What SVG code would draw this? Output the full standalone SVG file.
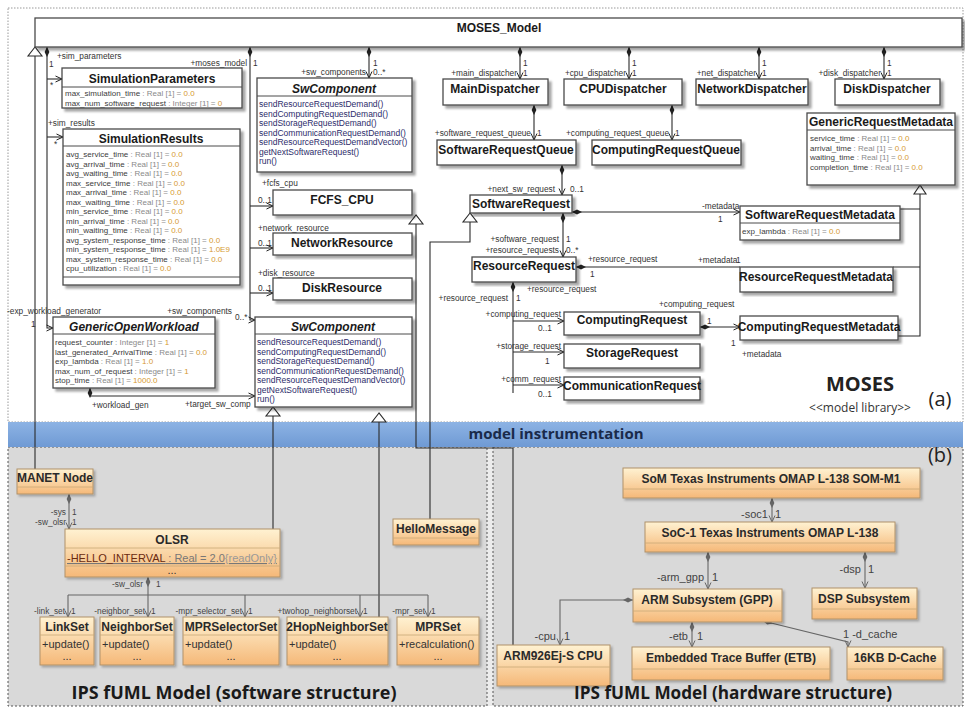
<svg xmlns="http://www.w3.org/2000/svg" width="965" height="711" viewBox="0 0 965 711">
<style>
text{font-family:"Liberation Sans",Arial,sans-serif}
.h{font-size:12px;font-weight:bold;fill:#1a1a1a;text-anchor:middle}
.hi{font-style:italic}
.a{font-size:8px;fill:#3c3c3c}
.t{fill:#8a8a8a}
.v{fill:#d69a30}
.o{font-size:8.5px;fill:#2c2c6a}
.l{font-size:8.3px;fill:#333}
.r{text-anchor:end}
.bx{fill:#fff;stroke:#4a4a4a;stroke-width:1.3;filter:url(#ds)}
.dv{stroke:#4a4a4a;stroke-width:1}
.c{fill:none;stroke:#2a2a2a;stroke-width:1.1}
.g{fill:#fff;stroke:#2a2a2a;stroke-width:1.1}
.fb{fill:url(#og);stroke:#b0926a;stroke-width:1;filter:url(#ds2)}
.fd{stroke:#c9a877;stroke-width:.8}
.fh{font-size:12px;font-weight:bold;fill:#2a2a2a;text-anchor:middle}
.fo{font-size:11px;fill:#333}
.fl{font-size:8.3px;fill:#444}
.hl{font-size:11px;fill:#444}
.c2{fill:none;stroke:#666;stroke-width:1.1}
.big{font-family:"Open Sans","Noto Sans",sans-serif;font-weight:bold}
</style>
<defs>
<filter id="ds" x="-10%" y="-10%" width="130%" height="130%"><feDropShadow dx="3" dy="3" stdDeviation="1" flood-color="#000" flood-opacity="0.35"/></filter>
<filter id="ds2" x="-10%" y="-10%" width="130%" height="130%"><feDropShadow dx="2" dy="2" stdDeviation="1" flood-color="#000" flood-opacity="0.25"/></filter>
<linearGradient id="og" x1="0" y1="0" x2="0" y2="1"><stop offset="0" stop-color="#fff2d2"/><stop offset="1" stop-color="#f5b878"/></linearGradient>
<linearGradient id="bl" x1="0" y1="0" x2="0" y2="1"><stop offset="0" stop-color="#8db3e4"/><stop offset="1" stop-color="#6f9ad4"/></linearGradient>
<marker id="dm" viewBox="0 0 10 6" refX="0" refY="3" markerWidth="10" markerHeight="6" markerUnits="userSpaceOnUse" orient="auto"><path d="M0,3 L5,0.6 L10,3 L5,5.4Z" fill="#222"/></marker>
<marker id="ar" viewBox="0 0 8 8" refX="7.5" refY="4" markerWidth="8" markerHeight="8" markerUnits="userSpaceOnUse" orient="auto"><path d="M1,1 L7.5,4 L1,7" fill="none" stroke="#222" stroke-width="1"/></marker>
<marker id="dm2" viewBox="0 0 10 6" refX="0" refY="3" markerWidth="10" markerHeight="6" markerUnits="userSpaceOnUse" orient="auto"><path d="M0,3 L5,0.6 L10,3 L5,5.4Z" fill="#666"/></marker>
<marker id="ar2" viewBox="0 0 8 8" refX="7.5" refY="4" markerWidth="8" markerHeight="8" markerUnits="userSpaceOnUse" orient="auto"><path d="M1,1 L7.5,4 L1,7" fill="none" stroke="#666" stroke-width="1"/></marker>
</defs>

<rect width="965" height="711" fill="#fff"/>
<rect x="8" y="447" width="955" height="259" fill="#d9d9d9"/>
<rect x="487" y="447" width="6" height="259" fill="#ececec"/>
<rect x="8" y="8" width="955" height="414" fill="none" stroke="#999" stroke-dasharray="1.5,1.5"/>
<rect x="8" y="447" width="479" height="259" fill="none" stroke="#555" stroke-dasharray="2,2"/>
<rect x="493" y="447" width="470" height="259" fill="none" stroke="#555" stroke-dasharray="2,2"/>
<rect x="8" y="422" width="955" height="25" fill="url(#bl)"/>
<text class="big" x="556" y="439" font-size="15" fill="#1a2a4a" text-anchor="middle">model instrumentation</text>
<text class="big" x="860" y="391" font-size="20" fill="#222" text-anchor="middle">MOSES</text>
<text x="860" y="412" font-size="12" fill="#333" text-anchor="middle" style="font-family:'Open Sans','Noto Sans',sans-serif">&lt;&lt;model library&gt;&gt;</text>
<text x="940" y="406" font-size="20" fill="#222" text-anchor="middle" style="font-family:'Open Sans','Noto Sans',sans-serif">(a)</text>
<text x="940" y="462" font-size="20" fill="#222" text-anchor="middle" style="font-family:'Open Sans','Noto Sans',sans-serif">(b)</text>

<g id="connectors">
<path class="c" d="M35,56 V469"/>
<polygon class="g" points="35,47 28,56 42,56"/>
<path class="c" d="M47,47 V328 H53" marker-start="url(#dm)" marker-end="url(#ar)"/>
<path class="c" d="M47,79 H62" marker-end="url(#ar)"/>
<path class="c" d="M47,137 H63" marker-end="url(#ar)"/>
<path class="c" d="M250,47 V320 H255" marker-start="url(#dm)" marker-end="url(#ar)"/>
<path class="c" d="M250,206 H273" marker-end="url(#ar)"/>
<path class="c" d="M250,248 H273" marker-end="url(#ar)"/>
<path class="c" d="M250,293 H273" marker-end="url(#ar)"/>
<path class="c" d="M369,47 V78" marker-start="url(#dm)" marker-end="url(#ar)"/>
<path class="c" d="M520,47 V79" marker-start="url(#dm)" marker-end="url(#ar)"/>
<path class="c" d="M629,47 V79" marker-start="url(#dm)" marker-end="url(#ar)"/>
<path class="c" d="M759,47 V79" marker-start="url(#dm)" marker-end="url(#ar)"/>
<path class="c" d="M884,47 V79" marker-start="url(#dm)" marker-end="url(#ar)"/>
<path class="c" d="M534,105 V140" marker-start="url(#dm)" marker-end="url(#ar)"/>
<path class="c" d="M672,105 V140" marker-start="url(#dm)" marker-end="url(#ar)"/>
<path class="c" d="M562,165 V195" marker-start="url(#dm)" marker-end="url(#ar)"/>
<path class="c" d="M572,212 H740" marker-start="url(#dm)" marker-end="url(#ar)"/>
<path class="c" d="M563,213 V257" marker-start="url(#dm)" marker-end="url(#ar)"/>
<path class="c" d="M576,267 H740" marker-start="url(#dm)"/>
<path class="c" d="M513,282 V393" marker-start="url(#dm)"/>
<path class="c" d="M513,321 H564" marker-end="url(#ar)"/>
<path class="c" d="M513,352 H564" marker-end="url(#ar)"/>
<path class="c" d="M513,385 H564" marker-end="url(#ar)"/>
<path class="c" d="M700,327 H740" marker-start="url(#dm)" marker-end="url(#ar)"/>
<path class="c" d="M90,388 V396 H255" marker-start="url(#dm)" marker-end="url(#ar)"/>
<path class="c" d="M920,194 V336 H898 M900,209 H920 M893,267 H920"/>
<polygon class="g" points="920,185 914,194 926,194"/>
<path class="c" d="M470,222 V242 H430 V519"/>
<polygon class="g" points="470,213 463,222 477,222"/>
<path class="c" d="M416,224 V448 H513 V645"/>
<polygon class="g" points="416,215 409,224 423,224"/>
<path class="c" d="M273,416 V529"/>
<polygon class="g" points="273,407 266,416 280,416"/>
<path class="c" d="M379,422 V617"/>
<polygon class="g" points="379,413 372,422 386,422"/>

<path class="c2" d="M69,494 V529" marker-start="url(#dm2)" marker-end="url(#ar2)"/>
<path class="c2" d="M148,577 V617" marker-start="url(#dm2)" marker-end="url(#ar2)"/>
<path class="c2" d="M68,595 H428"/>
<path class="c2" d="M68,595 V617" marker-end="url(#ar2)"/>
<path class="c2" d="M245,595 V617" marker-end="url(#ar2)"/>
<path class="c2" d="M360,595 V617" marker-end="url(#ar2)"/>
<path class="c2" d="M428,595 V617" marker-end="url(#ar2)"/>
<path class="c2" d="M772,498 V522" marker-start="url(#dm2)" marker-end="url(#ar2)"/>
<path class="c2" d="M708,552 V589" marker-start="url(#dm2)" marker-end="url(#ar2)"/>
<path class="c2" d="M865,552 V588" marker-start="url(#dm2)" marker-end="url(#ar2)"/>
<path class="c2" d="M633,600 H560 V645" marker-start="url(#dm2)" marker-end="url(#ar2)"/>
<path class="c2" d="M692,622 V647" marker-start="url(#dm2)" marker-end="url(#ar2)"/>
<path class="c2" d="M763,621 L848,642 V647" marker-start="url(#dm2)" marker-end="url(#ar2)"/>

<text class="l" x="57" y="59">+sim_parameters</text>
<text class="l" x="49" y="67">1</text>
<text class="l" x="50" y="88">*</text>
<text class="l" x="48" y="126">+sim_results</text>
<text class="l" x="54" y="147">*</text>
<text class="l" x="7" y="314">-exp_workload_generator</text>
<text class="l" x="31" y="327">1</text>
<text class="l" x="92" y="408">+workload_gen</text>
<text class="l" x="185" y="407">+target_sw_comp</text>
<text class="l r" x="247" y="66">+moses_model</text>
<text class="l" x="253" y="66">1</text>
<text class="l" x="262" y="186">+fcfs_cpu</text>
<text class="l" x="258" y="203">0..1</text>
<text class="l" x="258" y="231">+network_resource</text>
<text class="l" x="258" y="246">0..1</text>
<text class="l" x="258" y="276">+disk_resource</text>
<text class="l" x="258" y="291">0..1</text>
<text class="l r" x="232" y="314">+sw_components</text>
<text class="l" x="235" y="320">0..*</text>
<text class="l" x="373" y="66">1</text>
<text class="l r" x="366" y="75">+sw_components</text>
<text class="l" x="373" y="75">0..*</text>
<text class="l r" x="517" y="76">+main_dispatcher</text>
<text class="l" x="523" y="66">1</text>
<text class="l" x="523" y="76">1</text>
<text class="l r" x="626" y="76">+cpu_dispatcher</text>
<text class="l" x="632" y="66">1</text>
<text class="l" x="632" y="76">1</text>
<text class="l r" x="756" y="76">+net_dispatcher</text>
<text class="l" x="762" y="66">1</text>
<text class="l" x="762" y="76">1</text>
<text class="l r" x="881" y="76">+disk_dispatcher</text>
<text class="l" x="887" y="66">1</text>
<text class="l" x="887" y="76">1</text>
<text class="l r" x="531" y="136">+software_request_queue</text>
<text class="l" x="537" y="136">1</text>
<text class="l r" x="669" y="136">+computing_request_queue</text>
<text class="l" x="675" y="136">1</text>
<text class="l r" x="555" y="192">+next_sw_request</text>
<text class="l" x="570" y="192">0..1</text>
<text class="l" x="702" y="209">-metadata</text>
<text class="l" x="718" y="222">1</text>
<text class="l r" x="559" y="242">+software_request</text>
<text class="l" x="566" y="242">1</text>
<text class="l r" x="559" y="253">+resource_requests</text>
<text class="l" x="566" y="253">0..*</text>
<text class="l" x="588" y="262">+resource_request</text>
<text class="l" x="590" y="277">1</text>
<text class="l" x="698" y="263">+metadata</text>
<text class="l" x="736" y="263">1</text>
<text class="l" x="527" y="292">+resource_request</text>
<text class="l r" x="508" y="301">+resource_request</text>
<text class="l" x="516" y="301">1</text>
<text class="l r" x="561" y="317">+computing_request</text>
<text class="l" x="538" y="331">0..1</text>
<text class="l r" x="561" y="349">+storage_request</text>
<text class="l" x="545" y="364">1</text>
<text class="l r" x="561" y="382">+comm_request</text>
<text class="l" x="538" y="397">0..1</text>
<text class="l" x="659" y="307">+computing_request</text>
<text class="l" x="707" y="324">1</text>
<text class="l" x="731" y="346">1</text>
<text class="l" x="742" y="357">+metadata</text>

<text class="fl r" x="66" y="515">-sys</text>
<text class="fl" x="72" y="515">1</text>
<text class="fl r" x="66" y="525">-sw_olsr</text>
<text class="fl" x="72" y="525">1</text>
<text class="fl r" x="143" y="587">-sw_olsr</text>
<text class="fl" x="156" y="587">1</text>
<text class="fl r" x="65" y="614">-link_set</text>
<text class="fl" x="71" y="614">1</text>
<text class="fl r" x="145" y="614">-neighbor_set</text>
<text class="fl" x="151" y="614">1</text>
<text class="fl r" x="242" y="614">-mpr_selector_set</text>
<text class="fl" x="248" y="614">1</text>
<text class="fl r" x="357" y="614">+twohop_neighborset</text>
<text class="fl" x="363" y="614">1</text>
<text class="fl r" x="425" y="614">-mpr_set</text>
<text class="fl" x="431" y="614">1</text>
<text class="hl r" x="768" y="518">-soc1</text>
<text class="hl" x="775" y="518">1</text>
<text class="hl r" x="704" y="581">-arm_gpp</text>
<text class="hl" x="712" y="581">1</text>
<text class="hl r" x="861" y="573">-dsp</text>
<text class="hl" x="868" y="573">1</text>
<text class="hl r" x="556" y="640">-cpu</text>
<text class="hl" x="564" y="640">1</text>
<text class="hl r" x="688" y="640">-etb</text>
<text class="hl" x="697" y="640">1</text>
<text class="hl" x="843" y="638">1 -d_cache</text>
</g>

<g id="MOSES_Model"><rect class="bx" x="35" y="18" width="927" height="29"/><text class="h" x="499" y="32">MOSES_Model</text></g>

<g id="SimulationParameters"><rect class="bx" x="62" y="68" width="180" height="40"/><text class="h" x="152" y="83">SimulationParameters</text><line class="dv" x1="62" y1="87" x2="242" y2="87"/>
<text class="a" x="65" y="96">max_simulation_time<tspan class="t"> : Real [1] = </tspan><tspan class="v">0.0</tspan></text>
<text class="a" x="65" y="105.5">max_num_software_request<tspan class="t"> : Integer [1] = </tspan><tspan class="v">0</tspan></text></g>

<g id="SimulationResults"><rect class="bx" x="63" y="129" width="177" height="156"/><text class="h" x="151" y="143">SimulationResults</text><line class="dv" x1="63" y1="146" x2="240" y2="146"/>
<text class="a" x="66" y="157">avg_service_time<tspan class="t"> : Real [1] = </tspan><tspan class="v">0.0</tspan></text>
<text class="a" x="66" y="166.5">avg_arrival_time<tspan class="t"> : Real [1] = </tspan><tspan class="v">0.0</tspan></text>
<text class="a" x="66" y="176">avg_waiting_time<tspan class="t"> : Real [1] = </tspan><tspan class="v">0.0</tspan></text>
<text class="a" x="66" y="185.5">max_service_time<tspan class="t"> : Real [1] = </tspan><tspan class="v">0.0</tspan></text>
<text class="a" x="66" y="195">max_arrival_time<tspan class="t"> : Real [1] = </tspan><tspan class="v">0.0</tspan></text>
<text class="a" x="66" y="204.5">max_waiting_time<tspan class="t"> : Real [1] = </tspan><tspan class="v">0.0</tspan></text>
<text class="a" x="66" y="214">min_service_time<tspan class="t"> : Real [1] = </tspan><tspan class="v">0.0</tspan></text>
<text class="a" x="66" y="223.5">min_arrival_time<tspan class="t"> : Real [1] = </tspan><tspan class="v">0.0</tspan></text>
<text class="a" x="66" y="233">min_waiting_time<tspan class="t"> : Real [1] = </tspan><tspan class="v">0.0</tspan></text>
<text class="a" x="66" y="242.5">avg_system_response_time<tspan class="t"> : Real [1] = </tspan><tspan class="v">0.0</tspan></text>
<text class="a" x="66" y="252">min_system_response_time<tspan class="t"> : Real [1] = </tspan><tspan class="v">1.0E9</tspan></text>
<text class="a" x="66" y="261.5">max_system_response_time<tspan class="t"> : Real [1] = </tspan><tspan class="v">0.0</tspan></text>
<text class="a" x="66" y="271">cpu_utilization<tspan class="t"> : Real [1] = </tspan><tspan class="v">0.0</tspan></text>
<line class="dv" x1="63" y1="277" x2="240" y2="277"/></g>

<g id="GenericOpenWorkload"><rect class="bx" x="53" y="317" width="162" height="71"/><text class="h hi" x="134" y="331">GenericOpenWorkload</text><line class="dv" x1="53" y1="334" x2="215" y2="334"/>
<text class="a" x="55" y="345">request_counter<tspan class="t"> : Integer [1] = </tspan><tspan class="v">1</tspan></text>
<text class="a" x="55" y="354.5">last_generated_ArrivalTime<tspan class="t"> : Real [1] = </tspan><tspan class="v">0.0</tspan></text>
<text class="a" x="55" y="364">exp_lambda<tspan class="t"> : Real [1] = </tspan><tspan class="v">1.0</tspan></text>
<text class="a" x="55" y="373.5">max_num_of_request<tspan class="t"> : Integer [1] = </tspan><tspan class="v">1</tspan></text>
<text class="a" x="55" y="383">stop_time<tspan class="t"> : Real [1] = </tspan><tspan class="v">1000.0</tspan></text></g>

<g id="SwComponent"><rect class="bx" x="257" y="78" width="155" height="94"/><text class="h hi" x="334" y="93">SwComponent</text><line class="dv" x1="257" y1="96" x2="412" y2="96"/>
<text class="o" x="259" y="107">sendResourceRequestDemand()</text>
<text class="o" x="259" y="116.5">sendComputingRequestDemand()</text>
<text class="o" x="259" y="126">sendStorageRequestDemand()</text>
<text class="o" x="259" y="135.5">sendCommunicationRequestDemand()</text>
<text class="o" x="259" y="145">sendResourceRequestDemandVector()</text>
<text class="o" x="259" y="154.5">getNextSoftwareRequest()</text>
<text class="o" x="259" y="164">run()</text></g>

<g id="FCFS_CPU"><rect class="bx" x="273" y="190" width="139" height="25"/><text class="h" x="342" y="204">FCFS_CPU</text></g>
<g id="NetworkResource"><rect class="bx" x="273" y="233" width="139" height="22"/><text class="h" x="342" y="247">NetworkResource</text></g>
<g id="DiskResource"><rect class="bx" x="273" y="278" width="139" height="22"/><text class="h" x="342" y="292">DiskResource</text></g>

<g id="SwComponent2"><rect class="bx" x="255" y="317" width="157" height="90"/><text class="h hi" x="333" y="331">SwComponent</text><line class="dv" x1="255" y1="334" x2="412" y2="334"/>
<text class="o" x="257" y="345">sendResourceRequestDemand()</text>
<text class="o" x="257" y="354.5">sendComputingRequestDemand()</text>
<text class="o" x="257" y="364">sendStorageRequestDemand()</text>
<text class="o" x="257" y="373.5">sendCommunicationRequestDemand()</text>
<text class="o" x="257" y="383">sendResourceRequestDemandVector()</text>
<text class="o" x="257" y="392.5">getNextSoftwareRequest()</text>
<text class="o" x="257" y="402">run()</text></g>

<g id="MainDispatcher"><rect class="bx" x="443" y="79" width="105" height="26"/><text class="h" x="495" y="93">MainDispatcher</text></g>
<g id="CPUDispatcher"><rect class="bx" x="564" y="79" width="118" height="26"/><text class="h" x="623" y="93">CPUDispatcher</text></g>
<g id="NetworkDispatcher"><rect class="bx" x="696" y="79" width="112" height="26"/><text class="h" x="752" y="93">NetworkDispatcher</text></g>
<g id="DiskDispatcher"><rect class="bx" x="835" y="79" width="105" height="26"/><text class="h" x="887" y="93">DiskDispatcher</text></g>
<g id="SoftwareRequestQueue"><rect class="bx" x="437" y="140" width="139" height="25"/><text class="h" x="506" y="154">SoftwareRequestQueue</text></g>
<g id="ComputingRequestQueue"><rect class="bx" x="592" y="140" width="149" height="25"/><text class="h" x="666" y="154">ComputingRequestQueue</text></g>

<g id="GenericRequestMetadata"><rect class="bx" x="807" y="113" width="148" height="72"/><text class="h" x="881" y="126">GenericRequestMetadata</text><line class="dv" x1="807" y1="130" x2="955" y2="130"/>
<text class="a" x="810" y="141">service_time<tspan class="t"> : Real [1] = </tspan><tspan class="v">0.0</tspan></text>
<text class="a" x="810" y="150.5">arrival_time<tspan class="t"> : Real [1] = </tspan><tspan class="v">0.0</tspan></text>
<text class="a" x="810" y="160">waiting_time<tspan class="t"> : Real [1] = </tspan><tspan class="v">0.0</tspan></text>
<text class="a" x="810" y="169.5">completion_time<tspan class="t"> : Real [1] = </tspan><tspan class="v">0.0</tspan></text></g>

<g id="SoftwareRequest"><rect class="bx" x="470" y="195" width="102" height="18"/><text class="h" x="521" y="208">SoftwareRequest</text></g>
<g id="SoftwareRequestMetadata"><rect class="bx" x="740" y="206" width="160" height="34"/><text class="h" x="820" y="219">SoftwareRequestMetadata</text><line class="dv" x1="740" y1="223" x2="900" y2="223"/>
<text class="a" x="742" y="234">exp_lambda<tspan class="t"> : Real [1] = </tspan><tspan class="v">0.0</tspan></text></g>
<g id="ResourceRequest"><rect class="bx" x="472" y="257" width="104" height="25"/><text class="h" x="524" y="270">ResourceRequest</text></g>
<g id="ResourceRequestMetadata"><rect class="bx" x="740" y="267" width="153" height="25"/><text class="h" x="816" y="281">ResourceRequestMetadata</text></g>
<g id="ComputingRequest"><rect class="bx" x="564" y="312" width="136" height="23"/><text class="h" x="632" y="324">ComputingRequest</text></g>
<g id="StorageRequest"><rect class="bx" x="564" y="344" width="136" height="24"/><text class="h" x="632" y="357">StorageRequest</text></g>
<g id="CommunicationRequest"><rect class="bx" x="564" y="377" width="136" height="23"/><text class="h" x="632" y="390">CommunicationRequest</text></g>
<g id="ComputingRequestMetadata"><rect class="bx" x="740" y="316" width="158" height="24"/><text class="h" x="819" y="331">ComputingRequestMetadata</text></g>

<g id="MANET_Node"><rect class="fb" x="17" y="469" width="76" height="25"/><line class="fd" x1="17" y1="487" x2="93" y2="487"/><text class="fh" x="55" y="482">MANET Node</text></g>
<g id="HelloMessage"><rect class="fb" x="393" y="519" width="86" height="26"/><line class="fd" x1="393" y1="538" x2="479" y2="538"/><text class="fh" x="436" y="533">HelloMessage</text></g>
<g id="OLSR"><rect class="fb" x="65" y="529" width="215" height="48"/><text class="fh" x="172" y="544">OLSR</text><line class="fd" x1="65" y1="548" x2="280" y2="548"/>
<text x="67" y="562" font-size="11" text-decoration="underline" fill="#777"><tspan fill="#6a2a10">-HELLO_INTERVAL</tspan> : Real = 2.0<tspan fill="#999">{readOnly}</tspan></text>
<line class="fd" x1="65" y1="566" x2="280" y2="566"/><text class="fo" x="172" y="574" text-anchor="middle">...</text></g>
<g id="LinkSet"><rect class="fb" x="40" y="617" width="54" height="48"/><text class="fh" x="67" y="631">LinkSet</text><line class="fd" x1="40" y1="635" x2="94" y2="635"/><text class="fo" x="42" y="648">+update()</text><text class="fo" x="67" y="660" text-anchor="middle">...</text></g>
<g id="NeighborSet"><rect class="fb" x="100" y="617" width="74" height="48"/><text class="fh" x="137" y="631">NeighborSet</text><line class="fd" x1="100" y1="635" x2="174" y2="635"/><text class="fo" x="102" y="648">+update()</text><text class="fo" x="137" y="660" text-anchor="middle">...</text></g>
<g id="MPRSelectorSet"><rect class="fb" x="183" y="617" width="96" height="48"/><text class="fh" x="231" y="631">MPRSelectorSet</text><line class="fd" x1="183" y1="635" x2="279" y2="635"/><text class="fo" x="185" y="648">+update()</text><text class="fo" x="231" y="660" text-anchor="middle">...</text></g>
<g id="TwoHopNeighborSet"><rect class="fb" x="287" y="617" width="101" height="48"/><text class="fh" x="337" y="631">2HopNeighborSet</text><line class="fd" x1="287" y1="635" x2="388" y2="635"/><text class="fo" x="289" y="648">+update()</text><text class="fo" x="337" y="660" text-anchor="middle">...</text></g>
<g id="MPRSet"><rect class="fb" x="397" y="617" width="82" height="48"/><text class="fh" x="438" y="631">MPRSet</text><line class="fd" x1="397" y1="635" x2="479" y2="635"/><text class="fo" x="399" y="648">+recalculation()</text><text class="fo" x="438" y="660" text-anchor="middle">...</text></g>

<g id="SoM"><rect class="fb" x="623" y="468" width="297" height="30"/><line class="fd" x1="623" y1="489" x2="920" y2="489"/><text class="fh" x="771" y="483">SoM Texas Instruments OMAP L-138 SOM-M1</text></g>
<g id="SoC1"><rect class="fb" x="645" y="522" width="250" height="30"/><line class="fd" x1="645" y1="543" x2="895" y2="543"/><text class="fh" x="770" y="537">SoC-1 Texas Instruments OMAP L-138</text></g>
<g id="ARM_Subsystem"><rect class="fb" x="633" y="589" width="149" height="33"/><line class="fd" x1="633" y1="611" x2="782" y2="611"/><text class="fh" x="707" y="604">ARM Subsystem (GPP)</text></g>
<g id="DSP_Subsystem"><rect class="fb" x="812" y="588" width="105" height="31"/><line class="fd" x1="812" y1="609" x2="917" y2="609"/><text class="fh" x="864" y="603">DSP Subsystem</text></g>
<g id="ETB"><rect class="fb" x="632" y="647" width="198" height="33"/><line class="fd" x1="632" y1="669" x2="830" y2="669"/><text class="fh" x="731" y="662">Embedded Trace Buffer (ETB)</text></g>
<g id="DCache"><rect class="fb" x="847" y="647" width="96" height="33"/><line class="fd" x1="847" y1="669" x2="943" y2="669"/><text class="fh" x="895" y="662">16KB D-Cache</text></g>
<g id="ARM926"><rect class="fb" x="497" y="645" width="113" height="41"/><line class="fd" x1="497" y1="667" x2="610" y2="667"/><text class="fh" x="553" y="660">ARM926Ej-S CPU</text></g>

<text class="big" x="234" y="699" font-size="17" fill="#1a1a1a" text-anchor="middle" textLength="325" lengthAdjust="spacingAndGlyphs">IPS fUML Model (software structure)</text>
<text class="big" x="733" y="699" font-size="17" fill="#1a1a1a" text-anchor="middle" textLength="318" lengthAdjust="spacingAndGlyphs">IPS fUML Model (hardware structure)</text>
</svg>
